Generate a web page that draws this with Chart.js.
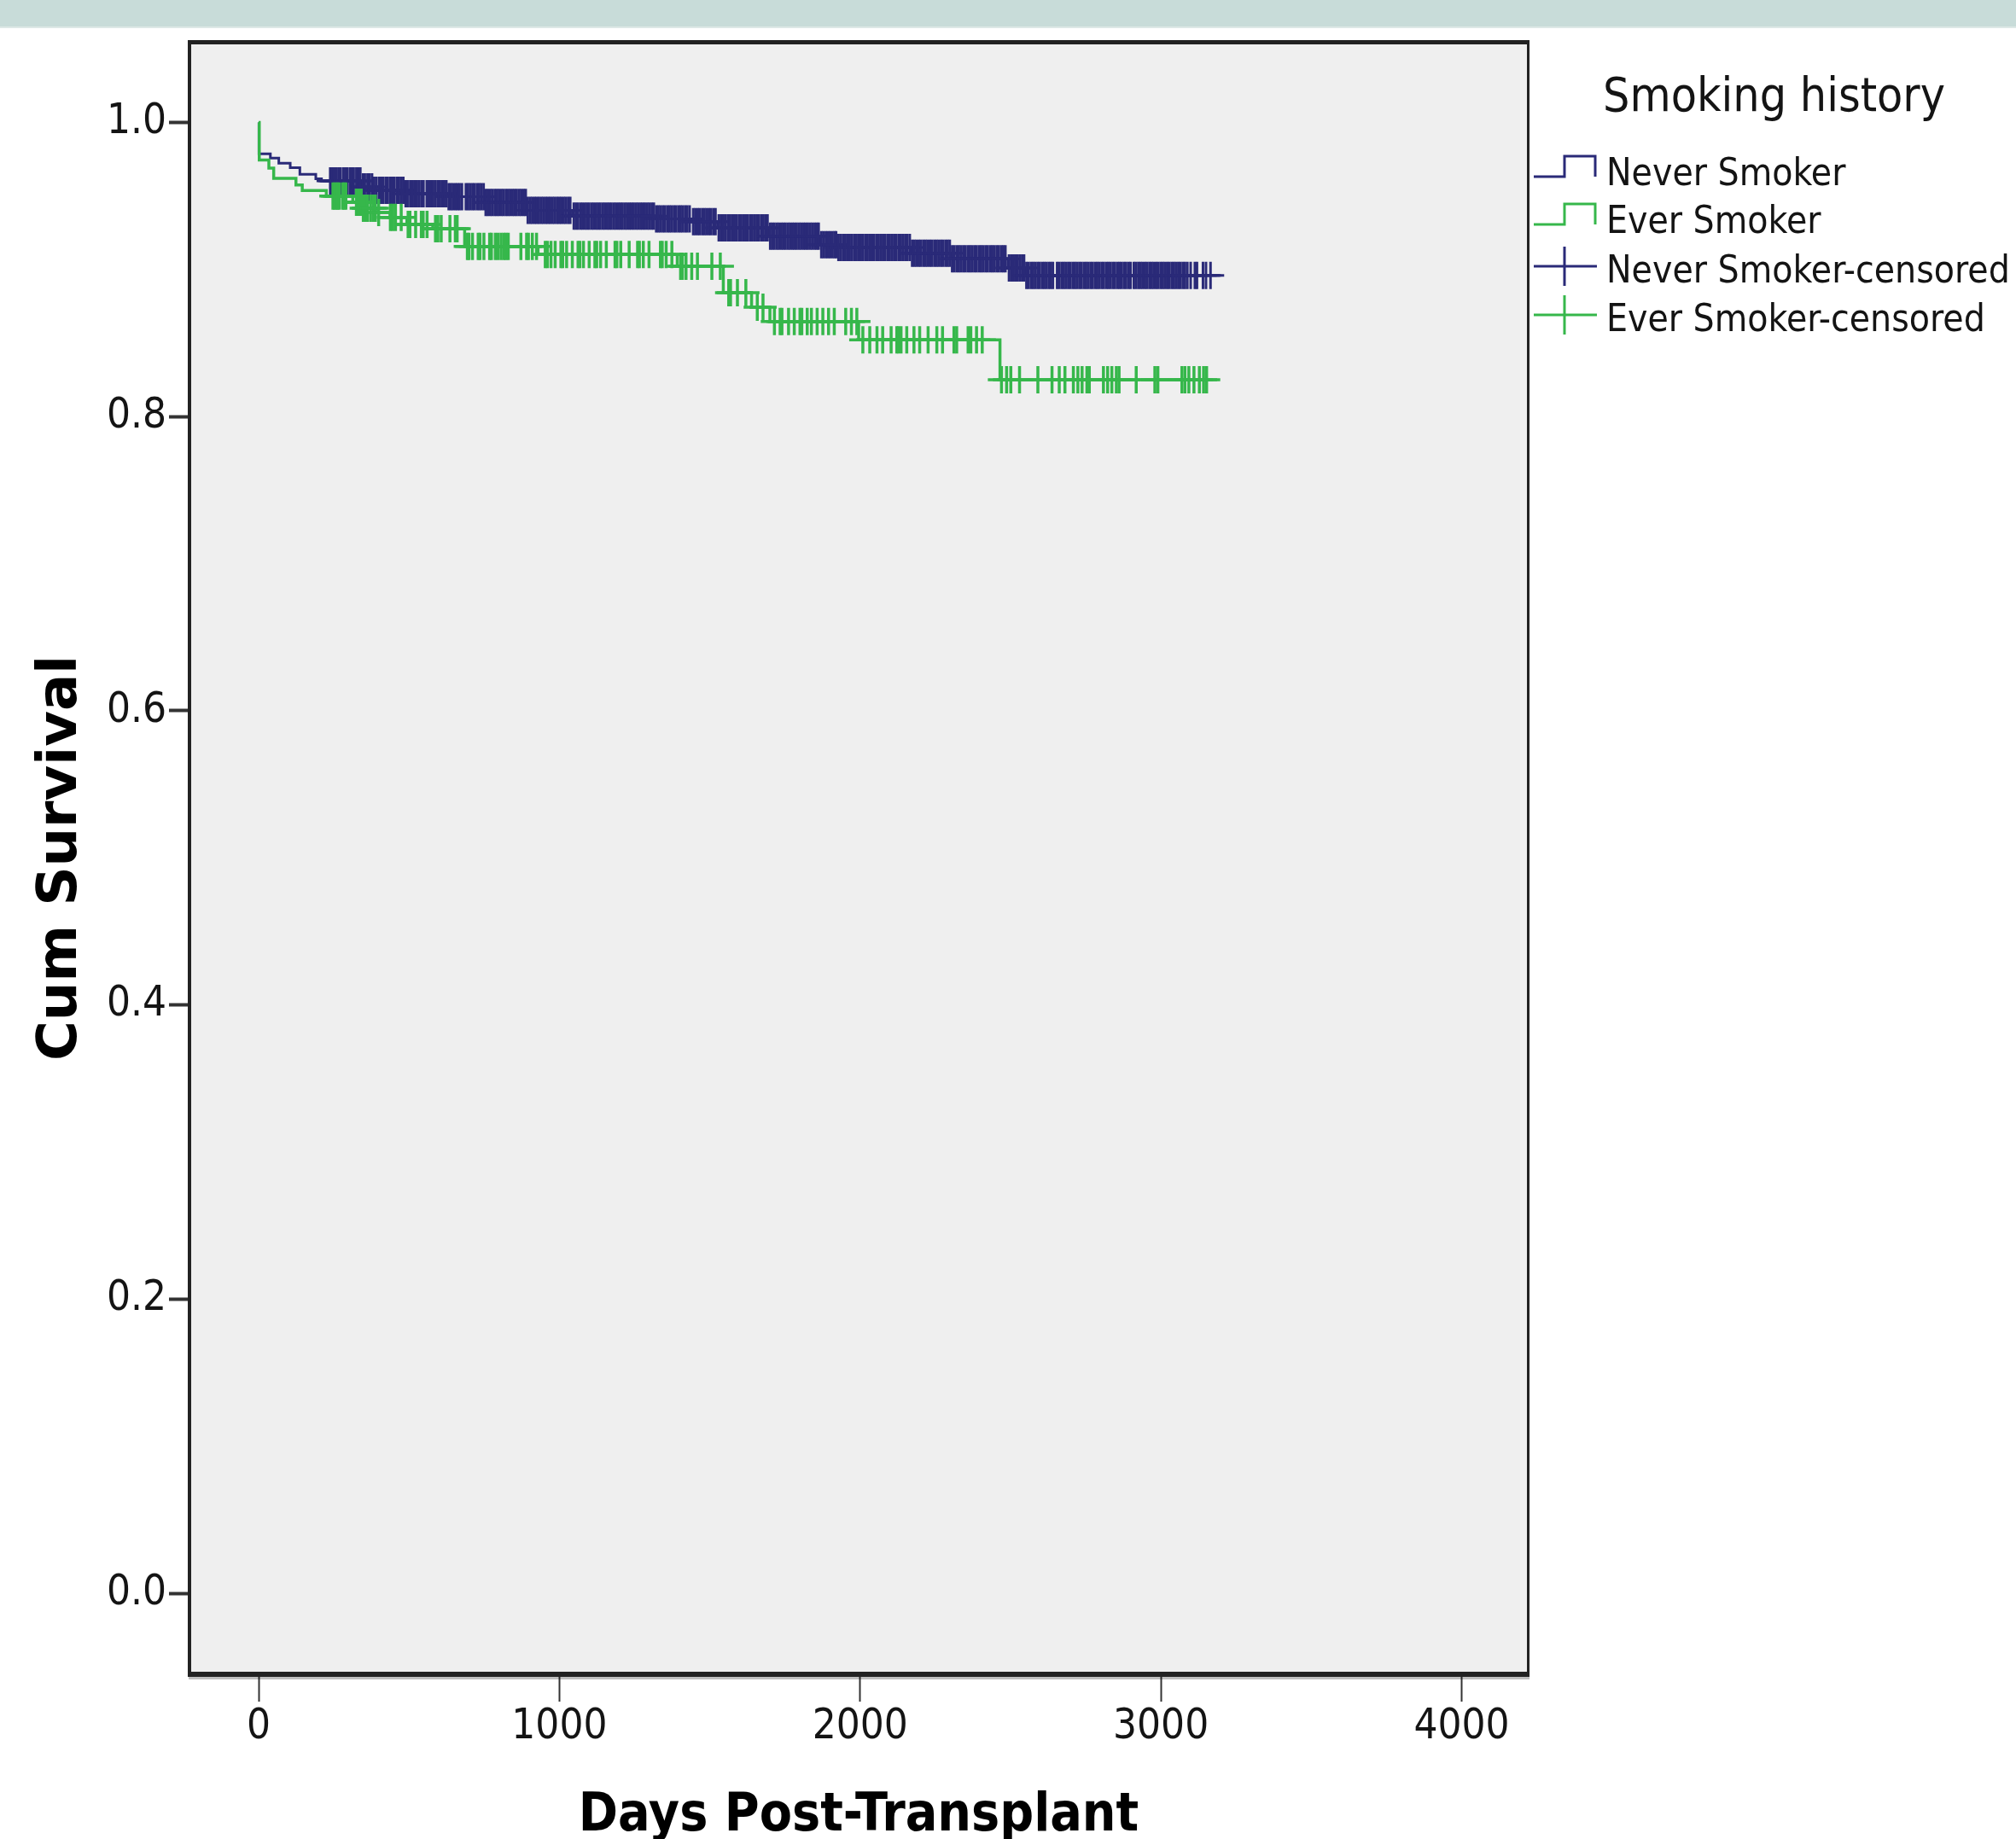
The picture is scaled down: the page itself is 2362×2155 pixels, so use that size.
<!DOCTYPE html>
<html>
<head>
<meta charset="utf-8">
<script src="https://cdn.jsdelivr.net/npm/chart.js@4.4.1/dist/chart.umd.min.js"></script>
<style>
  html, body { margin: 0; padding: 0; }
  body {
    width: 2362px; height: 2155px; overflow: hidden;
    background: linear-gradient(to bottom, #c8dcd9 0px, #c8dcd9 31px, #dde8e6 31px, #dde8e6 33px, #ffffff 33px);
  }
  #wrap { position: absolute; left: 0; top: 0; width: 2362px; height: 2155px; }
</style>
</head>
<body>
<div id="wrap"><canvas id="c" width="2362" height="2155"></canvas></div>
<script>
// ---------------- DATA ----------------
const xTicks = [0, 1000, 2000, 3000, 4000];
const yTicks = [0.0, 0.2, 0.4, 0.6, 0.8, 1.0];

const seriesNames = ["Never Smoker", "Ever Smoker", "Never Smoker-censored", "Ever Smoker-censored"];

// Kaplan-Meier steps: time (days) at which survival drops, and survival after the drop
const neverTimes = [0, 1, 39, 67, 105, 137, 190, 209, 342, 380, 484, 626, 749, 891, 1043, 1317, 1440, 1526, 1696, 1866, 1923, 2169, 2302, 2491, 2548, 3200];
const neverSurv  = [1.0, 0.9787, 0.9757, 0.9722, 0.9692, 0.9647, 0.9617, 0.9602, 0.9561, 0.9538, 0.9515, 0.9495, 0.9456, 0.9402, 0.9363, 0.9344, 0.9325, 0.9283, 0.9227, 0.9169, 0.9150, 0.9111, 0.9073, 0.9011, 0.8960, 0.8960];

const everTimes = [0, 2, 34, 50, 124, 145, 225, 313, 342, 389, 437, 493, 579, 685, 929, 1392, 1545, 1639, 1700, 1995, 2465, 3155];
const everSurv  = [1.0, 0.9745, 0.9690, 0.9620, 0.9575, 0.9537, 0.9500, 0.9457, 0.9417, 0.9387, 0.9354, 0.9307, 0.9277, 0.9157, 0.9102, 0.9022, 0.8842, 0.8744, 0.8647, 0.8521, 0.8250, 0.8250];

// censored observation times (days)
const neverCensored = [
  238, 244, 251, 259, 266, 272, 281, 288, 294, 303, 310, 316, 325, 332, 338,
  347, 353, 362, 369, 377, 384, 391, 400, 407, 413, 422, 429, 437, 444, 450, 459, 466, 473, 481, 489, 495,
  504, 511, 518, 526, 533, 541, 548, 559, 566, 572, 580, 587, 595, 602, 609, 617, 624, 632, 639, 646, 654, 661, 668, 676,
  689, 696, 703, 711, 718, 726, 733, 740, 748, 755, 762, 770, 777, 785, 792, 799,
  807, 814, 822, 829, 836, 844, 851, 858, 866, 873, 881, 888, 895, 903, 910, 918, 925, 932, 940, 947, 955, 962, 969, 977, 984, 992, 999,
  1006, 1014, 1021, 1029, 1036, 1048, 1055, 1062, 1070, 1077, 1085, 1092, 1099, 1107, 1114, 1122, 1129, 1136, 1144, 1151, 1159, 1166,
  1173, 1181, 1188, 1196, 1203, 1210, 1218, 1225, 1233, 1240, 1247, 1255, 1262, 1270, 1277, 1284, 1292, 1299, 1307, 1314,
  1322, 1329, 1336, 1344, 1351, 1359, 1366, 1373, 1381, 1388, 1396, 1403, 1410, 1418, 1425, 1433, 1445, 1452, 1460, 1467, 1475, 1482, 1489, 1497, 1504, 1512, 1519,
  1530, 1537, 1545, 1552, 1560, 1567, 1574, 1582, 1589, 1597, 1604, 1611, 1619, 1626, 1634, 1641, 1648, 1656, 1663, 1671, 1678, 1685, 1692,
  1701, 1708, 1715, 1723, 1730, 1738, 1745, 1752, 1760, 1767, 1775, 1782, 1789, 1797, 1804, 1812, 1819, 1826, 1834, 1841, 1849, 1856, 1862,
  1871, 1878, 1886, 1893, 1900, 1908, 1915, 1920,
  1928, 1935, 1943, 1950, 1957, 1965, 1972, 1980, 1987, 1994, 2002, 2009, 2017, 2024, 2031, 2039, 2046, 2054, 2061, 2068, 2076, 2083,
  2091, 2098, 2105, 2113, 2120, 2128, 2135, 2142, 2150, 2157, 2165,
  2173, 2180, 2187, 2195, 2202, 2210, 2217, 2224, 2232, 2239, 2247, 2254, 2261, 2269, 2276, 2284, 2291, 2298,
  2306, 2313, 2321, 2328, 2335, 2343, 2350, 2358, 2365, 2372, 2380, 2387, 2395, 2402, 2409, 2417, 2424, 2432, 2439, 2446, 2454, 2461, 2469, 2476, 2483,
  2495, 2502, 2510, 2517, 2524, 2532, 2539, 2545,
  2553, 2560, 2568, 2575, 2582, 2590, 2597, 2605, 2612, 2619, 2627, 2634, 2641, 2655, 2662, 2670, 2677, 2684, 2692, 2699, 2707, 2714,
  2721, 2729, 2736, 2744, 2751, 2758, 2766, 2773, 2781, 2788, 2795, 2803, 2810, 2818, 2825, 2832, 2840, 2847, 2855, 2862, 2869, 2877,
  2884, 2892, 2899, 2910, 2917, 2925, 2932, 2939, 2947, 2954, 2962, 2969, 2976, 2984, 2991, 2999, 3006, 3013, 3021, 3028, 3036, 3043,
  3050, 3058, 3065, 3073, 3080, 3088, 3099, 3113, 3120, 3140, 3150, 3165
];

const everCensored = [
  247, 252, 258, 263, 268, 279, 284, 290, 325, 330, 334, 341, 348, 355, 361, 372, 381, 388, 399, 438, 446, 455, 474, 497, 503,
  522, 541, 547, 560, 588, 596, 607, 636, 654, 660,
  694, 699, 711, 730, 736, 749, 768, 774, 787, 796, 806, 815, 822, 830, 872, 891, 897, 910, 924, 953, 960, 972, 986, 1005, 1011,
  1024, 1043, 1062, 1068, 1080, 1099, 1118, 1124, 1137, 1156, 1185, 1191, 1204, 1232, 1260, 1266, 1279, 1298, 1336, 1342, 1355,
  1374, 1403, 1409, 1421, 1440, 1459, 1507, 1535, 1563, 1569, 1592, 1620, 1658, 1677, 1715, 1734, 1740, 1762, 1781, 1800, 1806,
  1824, 1838, 1857, 1876, 1895, 1914, 1952, 1971, 1989,
  2009, 2032, 2056, 2075, 2103, 2122, 2127, 2136, 2155, 2179, 2198, 2226, 2255, 2274, 2312, 2321, 2359, 2368, 2387, 2406,
  2470, 2487, 2501, 2530, 2591, 2638, 2662, 2681, 2709, 2724, 2738, 2754, 2762, 2809, 2823, 2837, 2852, 2861, 2918,
  2980, 2990, 3070, 3080, 3093, 3110, 3128, 3142, 3152
];

const navy = '#2a2a78';
const green = '#36b74b';

// ---------------- helpers ----------------
function survAt(times, surv, t) {
  let s = surv[0];
  for (let i = 0; i < times.length; i++) { if (times[i] <= t) s = surv[i]; }
  return s;
}
const toPts = (times, surv) => times.map((t, i) => ({ x: t, y: surv[i] }));
const censorPts = (cens, times, surv) => cens.map(t => ({ x: t, y: survAt(times, surv, t) }));

const TICK_FONT = { family: "'DejaVu Sans Condensed', 'DejaVu Sans', sans-serif", size: 49 };
const TEXT_COLOR = '#141414';

// ---------------- plugins ----------------
const plotBg = {
  id: 'plotBg',
  beforeDraw(chart) {
    const { ctx, chartArea: a } = chart;
    ctx.save();
    ctx.fillStyle = '#efefef';
    ctx.fillRect(a.left, a.top, a.right - a.left, a.bottom - a.top);
    ctx.restore();
  },
  afterDatasetsDraw(chart) {
    const { ctx, chartArea: a } = chart;
    ctx.save();
    ctx.fillStyle = '#222222';
    ctx.fillRect(a.left - 2, a.top - 2, a.right - a.left + 3, 5);      // top
    ctx.fillRect(a.left - 2, a.top - 2, 4, a.bottom - a.top + 5);      // left
    ctx.fillRect(a.right - 1, a.top - 2, 3, a.bottom - a.top + 5);     // right
    ctx.fillRect(a.left - 2, a.bottom - 3, a.right - a.left + 4, 6);   // bottom
    ctx.fillStyle = 'rgba(0,0,0,0.25)';
    ctx.fillRect(a.left - 1, a.bottom + 3, a.right - a.left + 3, 3);
    ctx.restore();
  }
};

const legendPlugin = {
  id: 'kmLegend',
  afterDraw(chart) {
    const { ctx } = chart;
    ctx.save();
    ctx.fillStyle = TEXT_COLOR;
    ctx.textAlign = 'left';
    ctx.textBaseline = 'alphabetic';
    ctx.font = "55px 'DejaVu Sans Condensed', 'DejaVu Sans', sans-serif";
    ctx.fillText('Smoking history', 1878, 130);

    const x0 = 1797, xm = 1833, x1 = 1869, tx = 1882;
    const rows = [217, 273, 331, 388];
    ctx.lineWidth = 3;
    // step symbols
    [[navy, 0], [green, 1]].forEach(([col, i]) => {
      const b = rows[i];
      const lo = b - 10, hi = b - 34;
      ctx.strokeStyle = col;
      ctx.beginPath();
      ctx.moveTo(x0, lo); ctx.lineTo(xm, lo); ctx.lineTo(xm, hi); ctx.lineTo(x1, hi); ctx.lineTo(x1, lo);
      ctx.stroke();
    });
    // censor symbols
    [[navy, 2], [green, 3]].forEach(([col, i]) => {
      const c = rows[i] - 19;
      ctx.strokeStyle = col;
      ctx.beginPath();
      ctx.moveTo(x0, c); ctx.lineTo(x1 + 2, c);
      ctx.moveTo(xm, c - 23); ctx.lineTo(xm, c + 23);
      ctx.stroke();
    });
    ctx.font = "44px 'DejaVu Sans Condensed', 'DejaVu Sans', sans-serif";
    ctx.fillStyle = TEXT_COLOR;
    seriesNames.forEach((n, i) => ctx.fillText(n, tx, rows[i]));
    ctx.restore();
  }
};

// ---------------- chart ----------------
new Chart(document.getElementById('c'), {
  type: 'scatter',
  data: {
    datasets: [
      {
        label: seriesNames[3], data: censorPts(everCensored, everTimes, everSurv), order: 0,
        showLine: false, pointStyle: 'cross', pointRadius: 16, pointHoverRadius: 16,
        pointBorderWidth: 3.5, pointBorderColor: green, pointBackgroundColor: green
      },
      {
        label: seriesNames[1], data: toPts(everTimes, everSurv), order: 1,
        showLine: true, stepped: 'before', borderColor: green, borderWidth: 3.5, pointRadius: 0, fill: false
      },
      {
        label: seriesNames[2], data: censorPts(neverCensored, neverTimes, neverSurv), order: 2,
        showLine: false, pointStyle: 'cross', pointRadius: 16, pointHoverRadius: 16,
        pointBorderWidth: 3, pointBorderColor: navy, pointBackgroundColor: navy
      },
      {
        label: seriesNames[0], data: toPts(neverTimes, neverSurv), order: 3,
        showLine: true, stepped: 'before', borderColor: navy, borderWidth: 3, pointRadius: 0, fill: false
      }
    ]
  },
  options: {
    responsive: false,
    animation: false,
    devicePixelRatio: 1,
    layout: { padding: { left: 0, top: 49, right: 572, bottom: 0 } },
    plugins: { legend: { display: false }, tooltip: { enabled: false } },
    scales: {
      x: {
        type: 'linear', min: -230, max: 4220,
        afterBuildTicks: s => { s.ticks = xTicks.map(v => ({ value: v })); },
        afterFit: s => { s.height = 193; },
        border: { display: false },
        grid: { drawOnChartArea: false, drawTicks: true, tickLength: 32, tickWidth: 2, tickColor: '#333', color: '#333' },
        ticks: { font: TICK_FONT, color: TEXT_COLOR, padding: 1, maxRotation: 0, callback: v => String(v) },
        title: {
          display: true, text: 'Days Post-Transplant', color: '#000',
          font: { family: "'DejaVu Sans Condensed', 'DejaVu Sans', sans-serif", size: 62, weight: 'bold' },
          padding: { top: 0, bottom: -11 }
        }
      },
      y: {
        type: 'linear', min: -0.0551, max: 1.0548,
        afterBuildTicks: s => { s.ticks = yTicks.map(v => ({ value: v })); },
        afterFit: s => { s.width = 222; },
        border: { display: false },
        grid: { drawOnChartArea: false, drawTicks: true, tickLength: 24, tickWidth: 4, tickColor: '#333', color: '#333' },
        ticks: { font: TICK_FONT, color: TEXT_COLOR, padding: 3, callback: v => Number(v).toFixed(1) },
        title: {
          display: true, text: 'Cum Survival', color: '#000',
          font: { family: "'DejaVu Sans', sans-serif", size: 64, weight: 'bold' },
          padding: { top: 34, bottom: 0 }
        }
      }
    }
  },
  plugins: [plotBg, legendPlugin]
});
</script>
</body>
</html>
